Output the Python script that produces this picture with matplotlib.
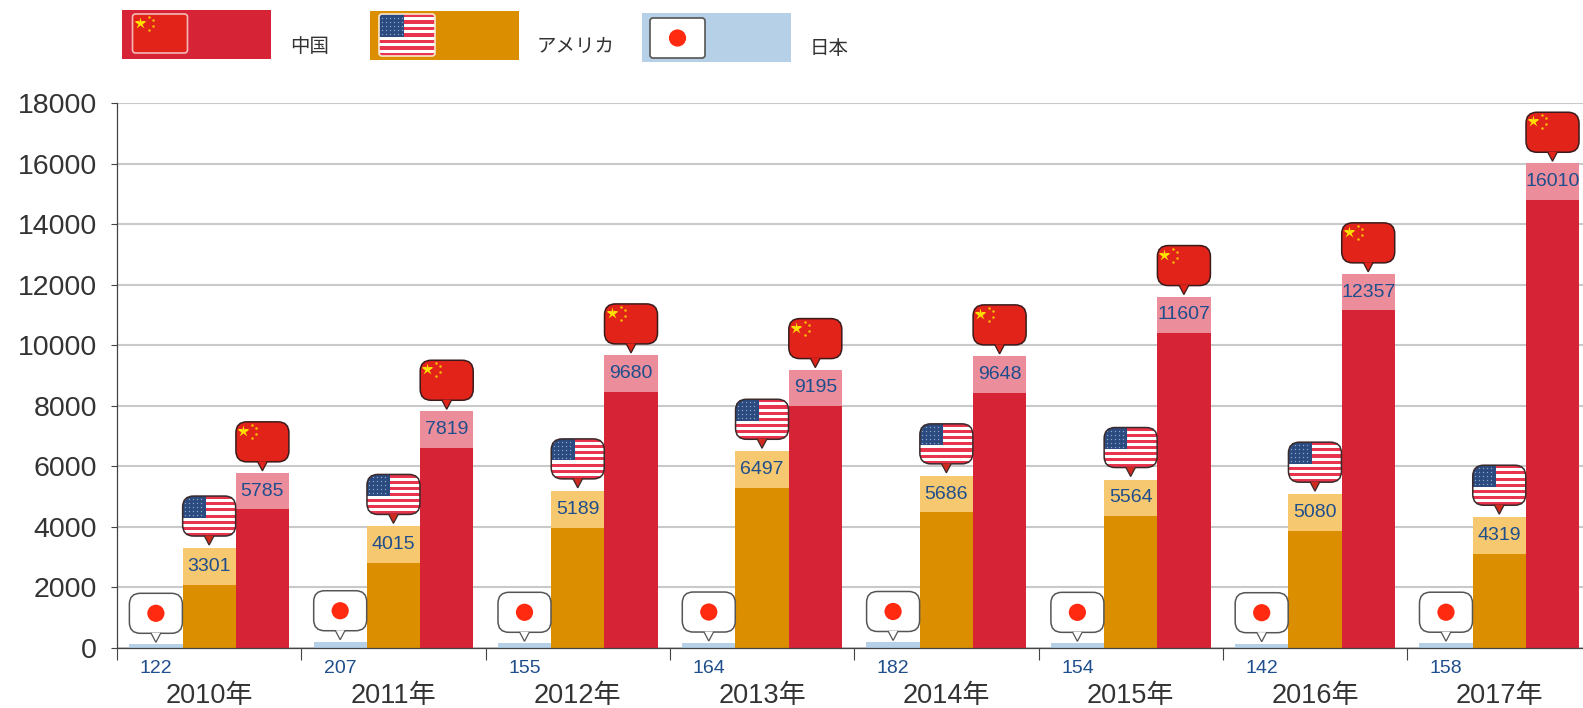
import matplotlib
matplotlib.use("Agg")
import matplotlib.pyplot as plt
from matplotlib.patches import FancyBboxPatch, Polygon, Rectangle, Circle
from matplotlib.lines import Line2D
from matplotlib.transforms import Affine2D, IdentityTransform
import numpy as np

plt.rcParams['font.family'] = ['Noto Sans CJK JP', 'DejaVu Sans']

years = ['2010年', '2011年', '2012年', '2013年', '2014年', '2015年', '2016年', '2017年']
china = [5785, 7819, 9680, 9195, 9648, 11607, 12357, 16010]
usa = [3301, 4015, 5189, 6497, 5686, 5564, 5080, 4319]
japan = [122, 207, 155, 164, 182, 154, 142, 158]
legend_names = ['中国', 'アメリカ', '日本']
yticks = list(range(0, 18001, 2000))

W, H = 1583, 708
C_CHINA, C_CHINA_L = '#D62336', '#EC8D9C'
C_USA, C_USA_L = '#DB8F00', '#F6C870'
C_JP = '#B6D1E7'
C_FLAG_RED = '#E2231A'
C_TEXT = '#333333'
C_VAL = '#1F4E8C'
VAL_FONT = ['Liberation Sans', 'DejaVu Sans']
AXIS_FONT = ['Liberation Sans', 'Noto Sans CJK JP']
BAND = 1210
BW = 0.289

fig = plt.figure(figsize=(W / 100, H / 100), dpi=100, facecolor='white')
AX_L, AX_R, AX_T, AX_B = 117, W, 103, 648
ax = fig.add_axes([AX_L / W, 1 - AX_B / H, (AX_R - AX_L) / W, (AX_B - AX_T) / H])
ax.set_xlim(0, (AX_R - AX_L) / 184.3)
ax.set_ylim(0, 18000)
ax.set_axisbelow(True)
ax.yaxis.grid(True, color='#C9C9C9', lw=1.5)
for s in ('top', 'right'):
    ax.spines[s].set_visible(False)
for s in ('left', 'bottom'):
    ax.spines[s].set_color('#444444')
    ax.spines[s].set_linewidth(0.9)

idx = np.arange(len(years))
xj, xu, xc = idx + 0.5 - BW, idx + 0.5, idx + 0.5 + BW
ax.bar(xj, japan, BW, color=C_JP)
ax.bar(xu, usa, BW, color=C_USA)
ax.bar(xc, china, BW, color=C_CHINA)
ax.bar(xu, BAND, BW, bottom=np.array(usa) - BAND, color=C_USA_L)
ax.bar(xc, BAND, BW, bottom=np.array(china) - BAND, color=C_CHINA_L)

ax.set_yticks(yticks)
ax.set_yticklabels([str(v) for v in yticks], fontsize=20.5, color=C_TEXT, family=AXIS_FONT)
ax.tick_params(axis='y', length=4.3, width=0.8, color='#444444', pad=10)
ax.set_xticks(np.arange(0, 8))
ax.set_xticklabels([])
ax.tick_params(axis='x', which='major', length=8.6, width=0.8, color='#444444')
ax.set_xticks(idx + 0.5, minor=True)
ax.set_xticklabels(years, minor=True, fontsize=19.5, color=C_TEXT, family=AXIS_FONT)
ax.tick_params(axis='x', which='minor', length=0, pad=25)

for x, v in zip(xu, usa):
    ax.text(x, v - BAND / 2, str(v), ha='center', va='center', fontsize=14, color=C_VAL, family=VAL_FONT)
for x, v in zip(xc, china):
    ax.text(x, v - BAND / 2, str(v), ha='center', va='center', fontsize=14, color=C_VAL, family=VAL_FONT)
for x, v in zip(xj, japan):
    ax.annotate(str(v), (x, 0), xytext=(0, -15), textcoords='offset points', ha='center', va='center',
                fontsize=14, color=C_VAL, family=VAL_FONT)


def fill_flag(kind, tr, x0, y0, w, h, clip):
    """Draw flag artwork inside box (x0,y0,w,h) in pixel space, clipped to patch `clip`."""
    arts = []
    if kind == 'cn':
        arts.append(Rectangle((x0, y0), w, h, fc=C_FLAG_RED, ec='none', transform=tr))
        top = y0 + h
        arts.append(Line2D([x0 + 7], [top - 9], marker='*', ms=9, mfc='#FFE000', mec='none', ls='', transform=tr))
        for dx, dy in [(16, 3), (20, 6), (20, 12), (16, 16)]:
            arts.append(Line2D([x0 + dx], [top - dy], marker='o', ms=1.8, mfc='#F5C400', mec='none', ls='', transform=tr))
    elif kind == 'us':
        arts.append(Rectangle((x0, y0), w, h, fc='white', ec='none', transform=tr))
        sh = h / 13
        for i in range(0, 13, 2):
            arts.append(Rectangle((x0, y0 + i * sh), w, sh, fc='#E8344C', ec='none', transform=tr))
        cw, ch = w * 0.44, sh * 7
        arts.append(Rectangle((x0, y0 + h - ch), cw, ch, fc='#2B4B80', ec='none', transform=tr))
        sx = np.arange(x0 + 2.5, x0 + cw - 1, 4)
        sy = np.arange(y0 + h - ch + 2.5, y0 + h - 1, 4)
        gx, gy = np.meshgrid(sx, sy)
        arts.append(Line2D(gx.ravel(), gy.ravel(), marker='o', ms=1, mfc='#8FA3C6', mec='none', ls='', transform=tr))
    else:
        arts.append(Rectangle((x0, y0), w, h, fc='white', ec='none', transform=tr))
        arts.append(Circle((x0 + w / 2, y0 + h / 2), min(w, h) * 0.215, fc='#FF2A10', ec='none', transform=tr))
    for a in arts:
        fig.add_artist(a)
        a.set_zorder(5)
        a.set_clip_path(clip)


def framed_flag(kind, tr, x0, y0, w, h, edge, lw=1.2, r=10):
    style = f'round,pad=0,rounding_size={r}'
    clip = FancyBboxPatch((x0, y0), w, h, boxstyle=style, fc='none', ec='none', transform=tr)
    fig.add_artist(clip)
    clip.set_zorder(4)
    fill_flag(kind, tr, x0, y0, w, h, clip)
    frame = FancyBboxPatch((x0, y0), w, h, boxstyle=style, fc='none', ec=edge, lw=lw, transform=tr)
    fig.add_artist(frame)
    frame.set_zorder(6)


def bubble(kind, x, v, tail_color, edge, gap):
    px, py = ax.transData.transform((x, v))
    tr = Affine2D().translate(px, py + gap)
    framed_flag(kind, tr, -26.5, 9, 53, 40, edge, lw=1.1, r=11)
    tail = Polygon([(-5, 9.5), (0, 0), (5, 9.5)], closed=False, fc=tail_color, ec=edge, lw=0.9, transform=tr)
    fig.add_artist(tail)
    tail.set_zorder(7)


fig.canvas.draw()
for x, v in zip(xj, japan):
    bubble('jp', x, v, 'white', '#555555', 2)
for x, v in zip(xu, usa):
    bubble('us', x, v, '#D02A1E', '#3A2A2A', 3)
for x, v in zip(xc, china):
    bubble('cn', x, v, C_FLAG_RED, '#3A1A1A', 2)

# legend, laid out in pixel space (y measured from the top of the picture)
ident = IdentityTransform()
legend_rows = [
    (122, 10, C_CHINA, 'cn', 132.5, 14, 55, 39, '#F4B8B8', 290, 46),
    (369.5, 11, C_USA, 'us', 379, 14, 56, 42, '#FBE8D0', 537, 46),
    (641.5, 13, C_JP, 'jp', 650, 18, 55, 40, '#555555', 810, 48),
]
for name, (rx, ry, col, kind, fx, fy, fw, fh, edge, tx, ty) in zip(legend_names, legend_rows):
    rect = Rectangle((rx, H - ry - 49), 149, 49, fc=col, ec='none', transform=ident)
    fig.add_artist(rect)
    rect.set_zorder(3)
    framed_flag(kind, ident, fx, H - fy - fh, fw, fh, edge, lw=1.2, r=3)
    fig.text(tx / W, 1 - ty / H, name, fontsize=14, color=C_TEXT, ha='left', va='center')

fig.savefig('out.png', dpi=100)
